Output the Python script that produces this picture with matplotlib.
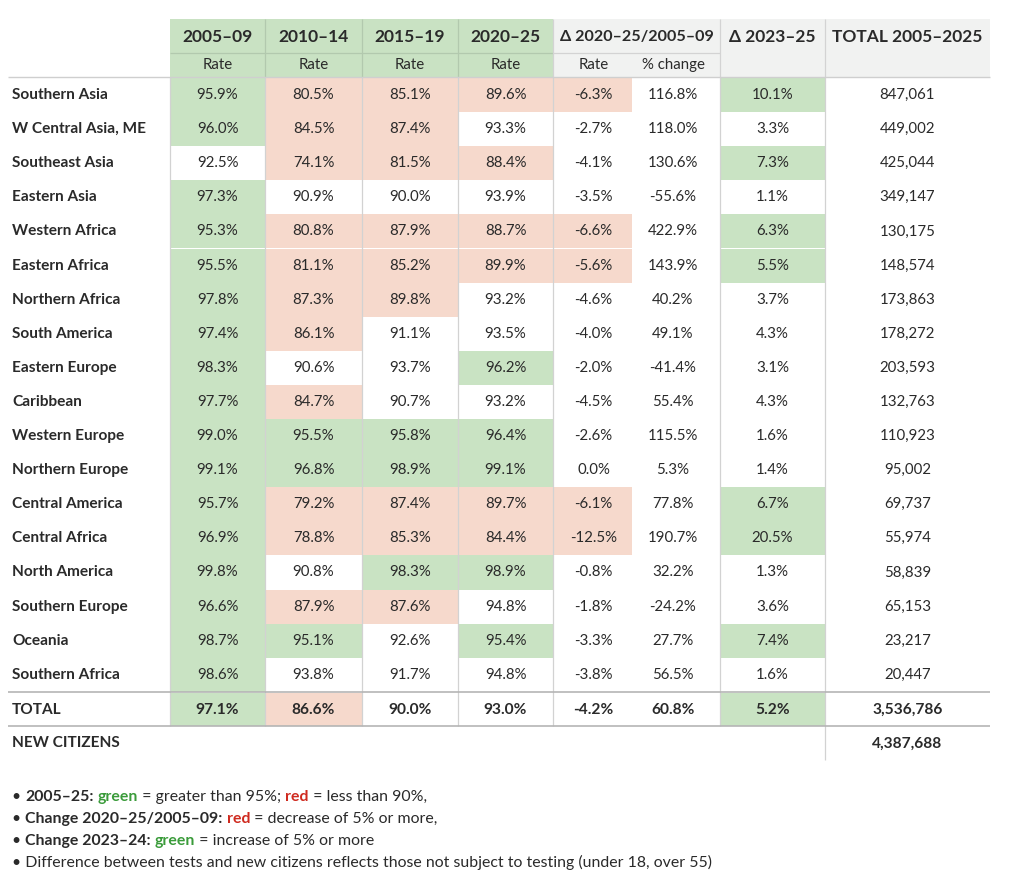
import matplotlib
matplotlib.use("Agg")
import matplotlib.pyplot as plt
from matplotlib.patches import Rectangle

plt.rcParams['font.family'] = ['Lato', 'DejaVu Sans']

# ---------------- data ----------------
regions = ["Southern Asia", "W Central Asia, ME", "Southeast Asia", "Eastern Asia",
           "Western Africa", "Eastern Africa", "Northern Africa", "South America",
           "Eastern Europe", "Caribbean", "Western Europe", "Northern Europe",
           "Central America", "Central Africa", "North America", "Southern Europe",
           "Oceania", "Southern Africa"]
rate_2005_09 = [95.9, 96.0, 92.5, 97.3, 95.3, 95.5, 97.8, 97.4, 98.3, 97.7, 99.0, 99.1,
                95.7, 96.9, 99.8, 96.6, 98.7, 98.6]
rate_2010_14 = [80.5, 84.5, 74.1, 90.9, 80.8, 81.1, 87.3, 86.1, 90.6, 84.7, 95.5, 96.8,
                79.2, 78.8, 90.8, 87.9, 95.1, 93.8]
rate_2015_19 = [85.1, 87.4, 81.5, 90.0, 87.9, 85.2, 89.8, 91.1, 93.7, 90.7, 95.8, 98.9,
                87.4, 85.3, 98.3, 87.6, 92.6, 91.7]
rate_2020_25 = [89.6, 93.3, 88.4, 93.9, 88.7, 89.9, 93.2, 93.5, 96.2, 93.2, 96.4, 99.1,
                89.7, 84.4, 98.9, 94.8, 95.4, 94.8]
delta_rate = [-6.3, -2.7, -4.1, -3.5, -6.6, -5.6, -4.6, -4.0, -2.0, -4.5, -2.6, 0.0,
              -6.1, -12.5, -0.8, -1.8, -3.3, -3.8]
pct_change = [116.8, 118.0, 130.6, -55.6, 422.9, 143.9, 40.2, 49.1, -41.4, 55.4, 115.5, 5.3,
              77.8, 190.7, 32.2, -24.2, 27.7, 56.5]
delta_2023_25 = [10.1, 3.3, 7.3, 1.1, 6.3, 5.5, 3.7, 4.3, 3.1, 4.3, 1.6, 1.4,
                 6.7, 20.5, 1.3, 3.6, 7.4, 1.6]
total_2005_2025 = [847061, 449002, 425044, 349147, 130175, 148574, 173863, 178272, 203593,
                   132763, 110923, 95002, 69737, 55974, 58839, 65153, 23217, 20447]

total_row = {"r0509": 97.1, "r1014": 86.6, "r1519": 90.0, "r2025": 93.0,
             "drate": -4.2, "pct": 60.8, "d2325": 5.2, "total": 3536786}
new_citizens = 4387688

period_headers = ["2005–09", "2010–14", "2015–19", "2020–25"]
delta_header = "Δ 2020–25/2005–09"
d2325_header = "Δ 2023–25"
total_header = "TOTAL 2005–2025"

# ---------------- style ----------------
GREEN = "#c9e3c3"
RED = "#f6d9cc"
HDR_GREEN = "#c9e2c3"
HDR_GRAY = "#f1f2f1"
TXT = "#2a2a2a"
VLINE = "#d2d2d2"
HLINE = "#b5b5b5"
HDR_SIZE = 12.5
DATA_SIZE = 10.8
LABEL_SIZE = 11.1
SUB_SIZE = 10.8
NOTE_SIZE = 11.4

W, H = 1024, 891
fig = plt.figure(figsize=(W / 100, H / 100), dpi=100)
ax = fig.add_axes([0, 0, 1, 1])
ax.set_xlim(0, W)
ax.set_ylim(H, 0)
ax.axis("off")

# column edges (pixels)
xe = [170, 265, 362, 458, 553, 632, 720, 825, 990]
label_x = 12
hdr_top, hdr_mid, hdr_bot = 19, 53, 77
row_h = 34.1
data_top = 78


def rect(x0, y0, x1, y1, color):
    ax.add_patch(Rectangle((x0, y0), x1 - x0, y1 - y0, facecolor=color,
                           edgecolor="none", lw=0, zorder=1))


def line(x0, y0, x1, y1, color, lw=1.0):
    ax.plot([x0, x1], [y0, y1], color=color, lw=lw, zorder=3, solid_capstyle="butt")


def txt(x, y, s, ha="center", bold=False, size=DATA_SIZE, color=TXT):
    ax.text(x, y, s, ha=ha, va="center", fontsize=size,
            fontweight="bold" if bold else "normal", color=color, zorder=4)


# ---- header ----
rect(xe[0], hdr_top, xe[4], hdr_bot, HDR_GREEN)
rect(xe[4], hdr_top, xe[8], hdr_bot, HDR_GRAY)
hy1 = (hdr_top + hdr_mid) / 2 + 1
hy2 = (hdr_mid + hdr_bot) / 2
for i, h in enumerate(period_headers):
    cx = (xe[i] + xe[i + 1]) / 2
    txt(cx, hy1, h, bold=True, size=HDR_SIZE)
    txt(cx, hy2, "Rate", size=SUB_SIZE)
txt((xe[4] + xe[6]) / 2, hy1, delta_header, bold=True, size=11.6)
txt((xe[4] + xe[5]) / 2 + 1, hy2, "Rate", size=SUB_SIZE)
txt((xe[5] + xe[6]) / 2 - 3, hy2, "% change", size=SUB_SIZE)
txt((xe[6] + xe[7]) / 2, hy1, d2325_header, bold=True, size=HDR_SIZE)
txt((xe[7] + xe[8]) / 2, hy1, total_header, bold=True, size=HDR_SIZE)
line(xe[0], hdr_mid, xe[4], hdr_mid, "#b2c9ae", 0.9)
line(xe[4], hdr_mid, xe[6], hdr_mid, "#d3d3d3", 0.9)
for xv in [xe[1], xe[2], xe[3]]:
    line(xv, hdr_top, xv, hdr_bot, "#b2c9ae", 0.9)
for xv in [xe[4], xe[6], xe[7]]:
    line(xv, hdr_top, xv, hdr_bot, "#d3d3d3", 0.9)


def rate_color(v):
    if v > 95:
        return GREEN
    if v < 90:
        return RED
    return None


def fmt_pct(v):
    return f"{v:.1f}%"


rate_cols = [rate_2005_09, rate_2010_14, rate_2015_19, rate_2020_25]

# ---- data rows ----
for r, name in enumerate(regions):
    y0 = data_top + r * row_h
    y1 = y0 + row_h
    cy = (y0 + y1) / 2
    txt(label_x, cy, name, ha="left", bold=True, size=LABEL_SIZE)
    for c, col in enumerate(rate_cols):
        colr = rate_color(col[r])
        if colr:
            rect(xe[c], y0, xe[c + 1], y1, colr)
        txt((xe[c] + xe[c + 1]) / 2, cy, fmt_pct(col[r]))
    if delta_rate[r] <= -5:
        rect(xe[4], y0, xe[5], y1, RED)
    txt((xe[4] + xe[5]) / 2 + 1, cy, fmt_pct(delta_rate[r]))
    txt((xe[5] + xe[6]) / 2 - 3, cy, fmt_pct(pct_change[r]))
    if delta_2023_25[r] >= 5:
        rect(xe[6], y0, xe[7], y1, GREEN)
    txt((xe[6] + xe[7]) / 2, cy, fmt_pct(delta_2023_25[r]))
    txt((xe[7] + xe[8]) / 2, cy, f"{total_2005_2025[r]:,}")

data_bot = data_top + len(regions) * row_h
tot_top = data_bot + 1
tot_bot = tot_top + 33.5
tcy = (tot_top + tot_bot) / 2
txt(label_x, tcy, "TOTAL", ha="left", bold=True, size=LABEL_SIZE)
tvals = [total_row["r0509"], total_row["r1014"], total_row["r1519"], total_row["r2025"]]
for c, v in enumerate(tvals):
    colr = rate_color(v)
    if colr:
        rect(xe[c], tot_top, xe[c + 1], tot_bot, colr)
    txt((xe[c] + xe[c + 1]) / 2, tcy, fmt_pct(v), bold=True, size=11.2)
if total_row["drate"] <= -5:
    rect(xe[4], tot_top, xe[5], tot_bot, RED)
txt((xe[4] + xe[5]) / 2 + 1, tcy, fmt_pct(total_row["drate"]), bold=True, size=11.2)
txt((xe[5] + xe[6]) / 2 - 3, tcy, fmt_pct(total_row["pct"]), bold=True, size=11.2)
if total_row["d2325"] >= 5:
    rect(xe[6], tot_top, xe[7], tot_bot, GREEN)
txt((xe[6] + xe[7]) / 2, tcy, fmt_pct(total_row["d2325"]), bold=True, size=11.2)
txt((xe[7] + xe[8]) / 2, tcy, f"{total_row['total']:,}", bold=True, size=11.2)

nc_top = tot_bot
nc_bot = nc_top + 34
ncy = (nc_top + nc_bot) / 2
txt(label_x, ncy, "NEW CITIZENS", ha="left", bold=True, size=LABEL_SIZE)
txt((xe[7] + xe[8]) / 2, ncy, f"{new_citizens:,}", bold=True, size=11.2)

# grid lines
for xv in xe[:5] + [xe[6]]:
    line(xv, hdr_bot, xv, tot_bot, VLINE, 0.9)
line(xe[7], hdr_bot, xe[7], nc_bot, VLINE, 0.9)
line(8, hdr_bot, xe[8], hdr_bot, "#cfcfcf", 1.0)
line(8, data_bot, xe[8], data_bot, HLINE, 1.2)
line(8, tot_bot, xe[8], tot_bot, HLINE, 1.2)

# ---- legend notes ----
fig.canvas.draw()
renderer = fig.canvas.get_renderer()
LG = "#3a9b3a"
LR = "#cf2a1f"
notes = [
    [("• ", False, TXT), ("2005–25:", True, TXT), (" ", False, TXT), ("green", True, LG),
     (" = greater than 95%; ", False, TXT), ("red", True, LR), (" = less than 90%,", False, TXT)],
    [("• ", False, TXT), ("Change 2020–25/2005–09:", True, TXT), (" ", False, TXT),
     ("red", True, LR), (" = decrease of 5% or more,", False, TXT)],
    [("• ", False, TXT), ("Change 2023–24:", True, TXT), (" ", False, TXT),
     ("green", True, LG), (" = increase of 5% or more", False, TXT)],
    [("• Difference between tests and new citizens reflects those not subject to testing "
      "(under 18, over 55)", False, TXT)],
]
note_y = [797, 819, 841, 862]
for pieces, y in zip(notes, note_y):
    x = 12
    for s, b, colr in pieces:
        t = ax.text(x, y, s, ha="left", va="center", fontsize=NOTE_SIZE,
                    fontweight="bold" if b else "normal", color=colr, zorder=4)
        bb = t.get_window_extent(renderer)
        x += bb.width

fig.savefig("out.png", dpi=100, facecolor="white")
